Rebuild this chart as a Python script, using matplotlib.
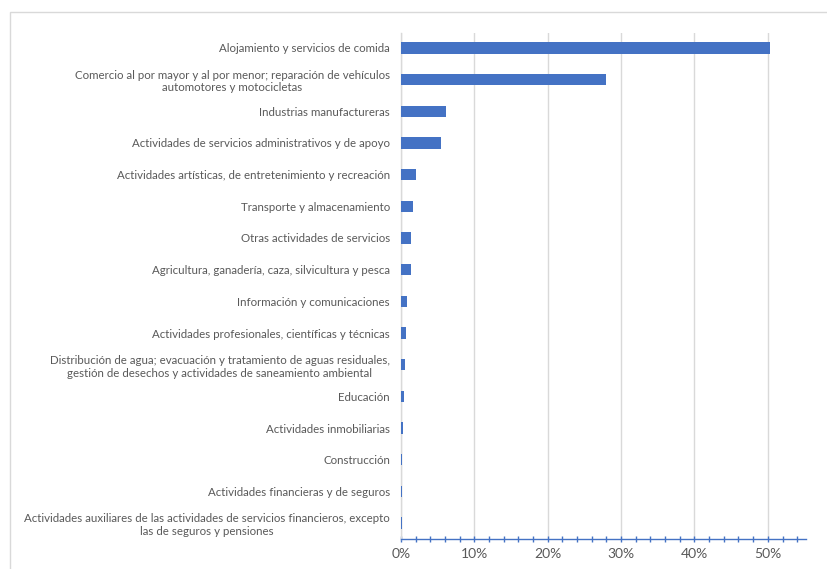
import matplotlib
matplotlib.use("Agg")
import matplotlib.pyplot as plt
from matplotlib.patches import Rectangle
from matplotlib.ticker import MultipleLocator, PercentFormatter

categories = [
    "Alojamiento y servicios de comida",
    "Comercio al por mayor y al por menor; reparación de vehículos\nautomotores y motocicletas",
    "Industrias manufactureras",
    "Actividades de servicios administrativos y de apoyo",
    "Actividades artísticas, de entretenimiento y recreación",
    "Transporte y almacenamiento",
    "Otras actividades de servicios",
    "Agricultura, ganadería, caza, silvicultura y pesca",
    "Información y comunicaciones",
    "Actividades profesionales, científicas y técnicas",
    "Distribución de agua; evacuación y tratamiento de aguas residuales,\ngestión de desechos y actividades de saneamiento ambiental",
    "Educación",
    "Actividades inmobiliarias",
    "Construcción",
    "Actividades financieras y de seguros",
    "Actividades auxiliares de las actividades de servicios financieros, excepto\nlas de seguros y pensiones",
]
values = [0.503, 0.279, 0.062, 0.055, 0.021, 0.017, 0.013, 0.013,
          0.0086, 0.007, 0.0055, 0.0037, 0.0023, 0.0012, 0.0012, 0.0012]

W, H = 828, 569
fig = plt.figure(figsize=(W / 100, H / 100), dpi=100)
fig.patch.set_facecolor("white")

# outer light border
fig.add_artist(Rectangle((10 / W, -0.1), 1.2, 1 - 12 / H + 0.1,
                         transform=fig.transFigure, fill=False,
                         edgecolor="#D9D9D9", linewidth=1.0))

ax = fig.add_axes([401 / W, 1 - 539 / H, (806 - 401) / W, (539 - 33) / H])
ypos = list(range(len(categories)))
ax.barh(ypos, values, height=0.36, color="#4472C4", zorder=3)
ax.set_ylim(15.5, -0.47)
ax.set_xlim(0, 0.552)

ax.set_yticks(ypos)
ax.set_yticklabels(categories, fontsize=8.25, color="#595959",
                   family="Lato", multialignment="center",
                   linespacing=1.2)
ax.tick_params(axis="y", length=0, pad=8)

ax.xaxis.set_major_locator(MultipleLocator(0.10))
ax.xaxis.set_minor_locator(MultipleLocator(0.02))
ax.xaxis.set_major_formatter(PercentFormatter(1.0, decimals=0))
ax.tick_params(axis="x", which="both", direction="inout", length=5,
               color="#4472C4", width=1.0, labelsize=10,
               labelcolor="#595959", pad=4)
for lab in ax.get_xticklabels():
    lab.set_family("Lato")

ax.grid(axis="x", which="major", color="#D9D9D9", linewidth=1.0, zorder=0)
for s in ["top", "right"]:
    ax.spines[s].set_visible(False)
ax.spines["left"].set_color("#D9D9D9")
ax.spines["left"].set_linewidth(1.0)
ax.spines["left"].set_zorder(1)
ax.spines["bottom"].set_color("#4472C4")
ax.spines["bottom"].set_linewidth(1.0)
ax.set_axisbelow(True)

fig.savefig("out.png", dpi=100)
